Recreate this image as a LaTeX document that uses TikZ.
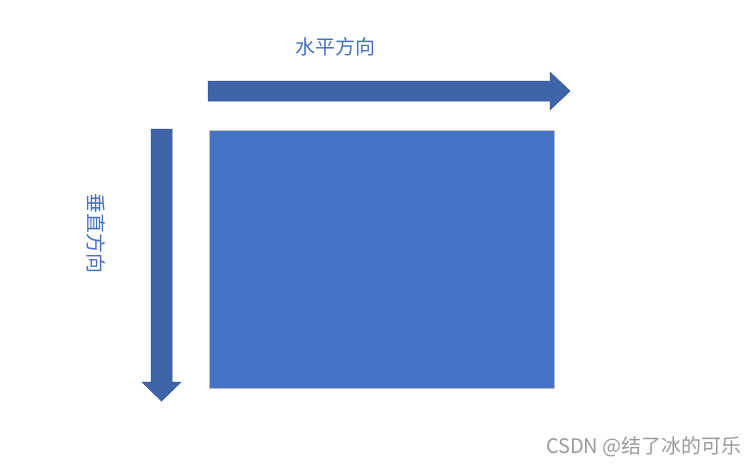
\documentclass[tikz,border=0pt]{standalone}
\usepackage{fontspec}
\newfontfamily\cjk{Noto Sans CJK SC}
\definecolor{flecha}{RGB}{62,100,170}
\definecolor{flechaBorde}{RGB}{47,82,143}
\definecolor{bloque}{RGB}{68,114,196}
\definecolor{marca}{RGB}{155,155,155}
\begin{document}
\begin{tikzpicture}
	[
	x=1pt, y=-1pt,
        flechaGruesa/.style={
            fill=flecha,
            draw=flechaBorde,
            line width=0.5pt
        },
        bloque/.style={
            fill=bloque,
            draw=black!25,
            line width=0.8pt
        },
        etiqueta/.style={
            font=\cjk\fontsize{20}{22}\selectfont,
            text=bloque,
            inner sep=0pt
        },
        marcaAgua/.style={
            font=\cjk\fontsize{20}{22}\selectfont,
            text=marca,
            inner sep=0pt
        }
    ]
    \useasboundingbox[fill=white] (0,0) rectangle (755,469);

    % flecha horizontal
    \draw[flechaGruesa] (208,81) -- (550,81) -- (550,72) -- (570,91)
        -- (550,110) -- (550,101) -- (208,101) -- cycle;
    % flecha vertical
    \draw[flechaGruesa] (151,129) -- (172,129) -- (172,382) -- (181,382)
        -- (161.5,401) -- (142,382) -- (151,382) -- cycle;

    \node(area) [bloque, minimum width=345pt, minimum height=258pt, anchor=north west, inner sep=0pt] at (209,130) {};

    \node(horizontal) [etiqueta] at (335,47) {水平方向};
    \node(vertical) [etiqueta, rotate=-90] at (96,233) {垂直方向};

    \node(csdn) [marcaAgua, anchor=east] at (742,447) {CSDN @结了冰的可乐};
\end{tikzpicture}
\end{document}
